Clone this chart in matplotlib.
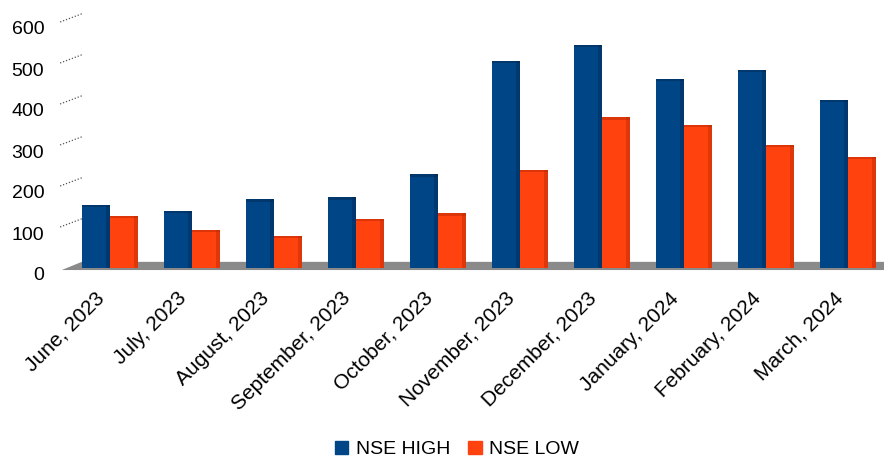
import matplotlib
matplotlib.use('Agg')
import matplotlib.pyplot as plt
from matplotlib.patches import Polygon, Patch
import matplotlib.transforms as mtransforms
import numpy as np

plt.rcParams['font.family'] = ['Liberation Sans', 'DejaVu Sans']

months = ['June, 2023', 'July, 2023', 'August, 2023', 'September, 2023',
          'October, 2023', 'November, 2023', 'December, 2023',
          'January, 2024', 'February, 2024', 'March, 2024']
nse_high = [154, 139, 168, 173, 229, 505, 544, 461, 483, 410]
nse_low = [127, 93, 78, 120, 134, 239, 368, 349, 300, 271]
y_ticks = [0, 100, 200, 300, 400, 500, 600]

blue = '#004586'
orange = '#ff420e'
blue_dark = '#002a55'
orange_dark = '#b82a05'

fig = plt.figure(figsize=(8.84, 4.59), dpi=100)
# axes placed in pixels: left 65, right 885, value 0 at y=268, 600 at y=22
ax = fig.add_axes([65 / 884, (459 - 268) / 459, 820 / 884, 246 / 459])
ax.set_xlim(-0.55, 9.45)
ax.set_ylim(0, 600)

x = np.arange(len(months))
w = 0.34
for vals, off, col, dark in [(nse_high, -0.17, blue, blue_dark),
                             (nse_low, 0.17, orange, orange_dark)]:
    ax.bar(x + off, vals, width=w, color=col, zorder=3, clip_on=False)
    # darker right edge for a bit of depth
    ax.bar(x + off + w / 2 - 0.025, vals, width=0.05, color=dark,
           alpha=0.45, linewidth=0, zorder=4, clip_on=False)
    # darker top rim
    ax.bar(x + off, [6] * len(vals), bottom=np.array(vals) - 6, width=w,
           color=dark, alpha=0.5, linewidth=0, zorder=4, clip_on=False)

# grey floor (slanted on the left)
floor = Polygon([(-0.59, -5), (-0.345, 15), (9.45, 15), (9.45, -5)],
                closed=True, facecolor='#8a8a8a', edgecolor='none',
                zorder=2, clip_on=False)
ax.add_patch(floor)

# short dotted gridlines on the left wall
for v in y_ticks[1:]:
    ax.plot([-0.61, -0.345], [v, v + 20], color='#555555', lw=0.9,
            linestyle=(0, (1, 1.5)), zorder=1, clip_on=False)

ax.set_yticks(y_ticks)
ax.set_yticklabels([str(v) for v in y_ticks], fontsize=14)
ax.set_xticks(x)
ax.set_xticklabels(months, fontsize=15, rotation=45, ha='right',
                   rotation_mode='anchor')
ax.tick_params(axis='y', length=0, pad=15)
ax.tick_params(axis='x', length=0, pad=12)
for s in ax.spines.values():
    s.set_visible(False)

# nudge the labels to where the reference puts them
xoff = mtransforms.ScaledTranslation(-15 / 100, -4 / 100, fig.dpi_scale_trans)
for lab in ax.get_xticklabels():
    lab.set_transform(lab.get_transform() + xoff)
yoff = mtransforms.ScaledTranslation(0, -6 / 100, fig.dpi_scale_trans)
for lab in ax.get_yticklabels():
    lab.set_transform(lab.get_transform() + yoff)

handles = [Patch(color=blue, label='NSE HIGH'), Patch(color=orange, label='NSE LOW')]
fig.legend(handles=handles, loc='lower center', bbox_to_anchor=(0.517, -0.037),
           ncol=2, frameon=False, fontsize=14, handlelength=0.7,
           handleheight=0.7, handletextpad=0.4, columnspacing=0.9)

fig.savefig('out.png', dpi=100)
